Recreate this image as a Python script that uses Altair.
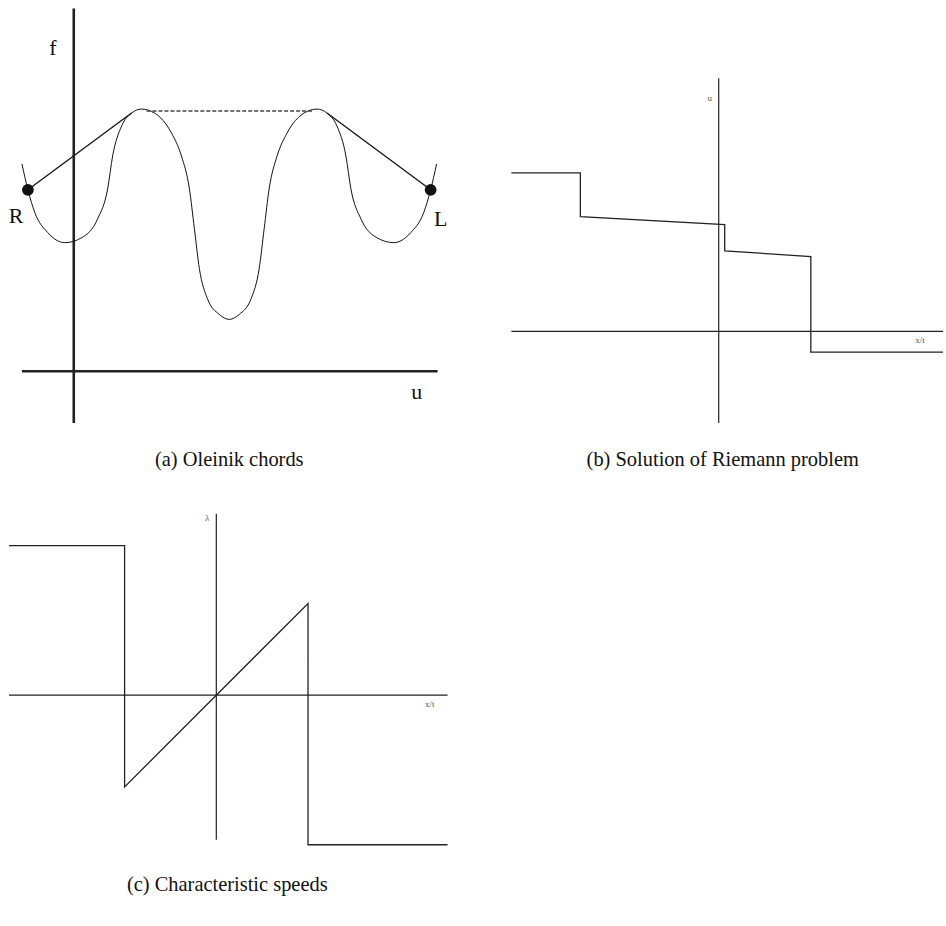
import altair as alt
import pandas as pd

SERIF = "Liberation Serif"
INK = "#222222"

# ---------- (a) flux function f(u) with Oleinik chords ----------
flux_u = [-1.3, -1.15, -0.975, -0.65, -0.225, 0.2, 0.6, 0.85, 0.975, 1.2, 1.45,
          1.7, 2.025, 2.45, 2.7, 2.9, 3.025, 3.15, 3.35, 3.65, 3.9,
          4.15, 4.45, 4.65, 4.775, 4.9, 5.1, 5.35, 5.775, 6.1, 6.35,
          6.6, 6.825, 6.95, 7.2, 7.6, 8.025, 8.45, 8.775, 8.95, 9.1]
flux_f = [5.2, 4.55, 3.975, 3.475, 3.225, 3.35, 3.825, 4.575, 5.4, 6.15, 6.475,
          6.575, 6.475, 5.975, 5.4, 4.575, 3.575, 2.575, 1.825, 1.425, 1.3,
          1.425, 1.825, 2.575, 3.575, 4.575, 5.4, 5.975, 6.475, 6.575, 6.475,
          6.15, 5.4, 4.575, 3.825, 3.35, 3.225, 3.475, 3.975, 4.55, 5.2]

chord_id = ["left", "left", "right", "right"]
chord_u = [-1.15, 1.45, 6.35, 8.95]
chord_f = [4.55, 6.475, 6.475, 4.55]

plateau_u = [1.825, 6.025]
plateau_f = [6.525, 6.525]

state_u = [-1.15, 8.95]
state_f = [4.55, 4.55]

a_axis_x = [-1.3, 0.0]
a_axis_x2 = [9.125, 0.0]
a_axis_y = [0.0, -1.3]
a_axis_y2 = [0.0, 9.1]

a_label_text = ["f", "u", "R", "L"]
a_label_u = [-0.525, 8.6, -1.45, 9.2]
a_label_f = [8.1, -0.525, 3.9, 3.825]

# ---------- (b) Riemann solution u(x/t) ----------
riem_x = [-5.2, -3.47, -3.47, 0.15, 0.15, 2.31, 2.31, 5.625]
riem_u = [3.975, 3.975, 2.88, 2.675, 2.02, 1.875, -0.52, -0.52]

b_axis_x = [-5.2, 0.0]
b_axis_x2 = [5.625, 0.0]
b_axis_y = [0.0, -2.3]
b_axis_y2 = [0.0, 6.35]

b_label_text = ["u", "x/t"]
b_label_x = [-0.225, 5.05]
b_label_y = [5.85, -0.225]

# ---------- (c) characteristic speeds lambda(x/t) ----------
speed_x = [-5.2, -2.3, -2.3, 2.3, 2.3, 5.8]
speed_l = [3.75, 3.75, -2.3, 2.3, -3.75, -3.75]

c_axis_x = [-5.2, 0.0]
c_axis_x2 = [5.8, 0.0]
c_axis_y = [0.0, -3.625]
c_axis_y2 = [0.0, 4.55]

c_label_text = ["λ", "x/t"]
c_label_x = [-0.225, 5.35]
c_label_y = [4.45, -0.225]


def scales(xdom, ydom):
    return (alt.Scale(domain=xdom, nice=False, zero=False),
            alt.Scale(domain=ydom, nice=False, zero=False))


def axes_layer(xs, ys, x, x2, y, y2, width):
    df = pd.DataFrame({"x": x, "x2": x2, "y": y, "y2": y2})
    return alt.Chart(df).mark_rule(color=INK, strokeWidth=width).encode(
        x=alt.X("x:Q", scale=xs, axis=None),
        x2="x2:Q",
        y=alt.Y("y:Q", scale=ys, axis=None),
        y2="y2:Q",
    )


def labels_layer(xs, ys, text, x, y, size, color):
    df = pd.DataFrame({"t": text, "x": x, "y": y})
    return alt.Chart(df).mark_text(
        font=SERIF, fontSize=size, color=color, align="center", baseline="middle"
    ).encode(
        x=alt.X("x:Q", scale=xs, axis=None),
        y=alt.Y("y:Q", scale=ys, axis=None),
        text="t:N",
    )


def caption(text, dx):
    return alt.TitleParams(text=text, orient="bottom", font=SERIF, fontSize=20.5,
                           fontWeight="normal", color="#111111", offset=19, dx=dx)


# panel (a)
xa, ya = scales([-1.85, 9.9], [-1.5, 9.275])
flux_df = pd.DataFrame({"u": flux_u, "f": flux_f})
chord_df = pd.DataFrame({"id": chord_id, "u": chord_u, "f": chord_f})
plateau_df = pd.DataFrame({"u": plateau_u, "f": plateau_f})
state_df = pd.DataFrame({"u": state_u, "f": state_f})

panel_a = alt.layer(
    axes_layer(xa, ya, a_axis_x, a_axis_x2, a_axis_y, a_axis_y2, 2.6),
    alt.Chart(flux_df).mark_line(color="#111111", strokeWidth=1.0, interpolate="monotone").encode(
        x=alt.X("u:Q", scale=xa, axis=None), y=alt.Y("f:Q", scale=ya, axis=None), order="u:Q"),
    alt.Chart(chord_df).mark_line(color="#111111", strokeWidth=1.3).encode(
        x=alt.X("u:Q", scale=xa, axis=None), y=alt.Y("f:Q", scale=ya, axis=None), detail="id:N"),
    alt.Chart(plateau_df).mark_line(color="#444444", strokeWidth=1.6, strokeDash=[4, 2]).encode(
        x=alt.X("u:Q", scale=xa, axis=None), y=alt.Y("f:Q", scale=ya, axis=None)),
    alt.Chart(state_df).mark_circle(color="#111111", size=140, opacity=1).encode(
        x=alt.X("u:Q", scale=xa, axis=None), y=alt.Y("f:Q", scale=ya, axis=None)),
    labels_layer(xa, ya, a_label_text, a_label_u, a_label_f, 22, "#111111"),
).properties(width=470, height=431, title=caption("(a) Oleinik chords", -5))

# panel (b)
xb, yb = scales([-6.275, 5.625], [-2.5, 8.275])
riem_df = pd.DataFrame({"x": riem_x, "u": riem_u, "k": list(range(len(riem_x)))})
panel_b = alt.layer(
    axes_layer(xb, yb, b_axis_x, b_axis_x2, b_axis_y, b_axis_y2, 1.2),
    alt.Chart(riem_df).mark_line(color=INK, strokeWidth=1.3).encode(
        x=alt.X("x:Q", scale=xb, axis=None), y=alt.Y("u:Q", scale=yb, axis=None), order="k:Q"),
    labels_layer(xb, yb, b_label_text, b_label_x, b_label_y, 9, "#555555"),
).properties(width=476, height=431, title=caption("(b) Solution of Riemann problem", 17))

# panel (c)
xc, yc = scales([-5.425, 6.325], [-4.025, 4.975])
speed_df = pd.DataFrame({"x": speed_x, "l": speed_l, "k": list(range(len(speed_x)))})
panel_c = alt.layer(
    axes_layer(xc, yc, c_axis_x, c_axis_x2, c_axis_y, c_axis_y2, 1.2),
    alt.Chart(speed_df).mark_line(color=INK, strokeWidth=1.3).encode(
        x=alt.X("x:Q", scale=xc, axis=None), y=alt.Y("l:Q", scale=yc, axis=None), order="k:Q"),
    labels_layer(xc, yc, c_label_text, c_label_x, c_label_y, 9, "#555555"),
).properties(width=470, height=360, title=caption("(c) Characteristic speeds", -7))

chart = alt.vconcat(
    alt.hconcat(panel_a, panel_b, spacing=0),
    panel_c,
    spacing=26,
).properties(padding=0, background="white").configure_view(stroke=None)

chart.save("out.html", embed_options={"renderer": "svg", "actions": False})
